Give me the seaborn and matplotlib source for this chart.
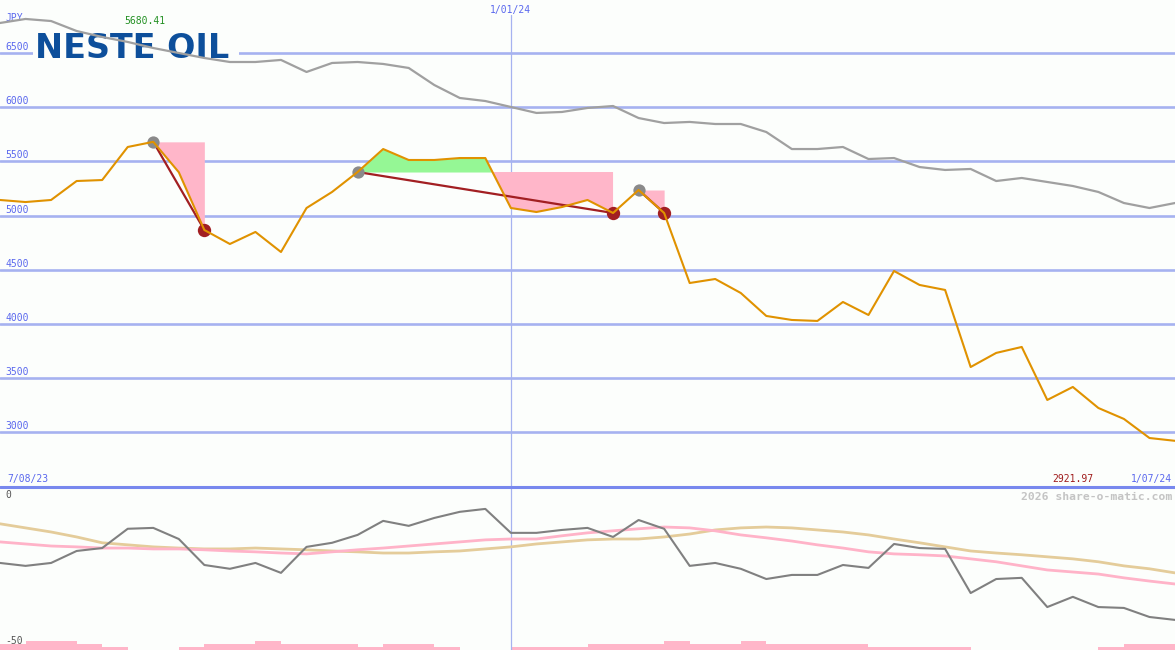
import matplotlib
matplotlib.use("Agg")
import matplotlib.pyplot as plt
from matplotlib.patches import Rectangle
import numpy as np
import pandas as pd
import seaborn as sns

# ---------------- data ----------------
dates = pd.date_range("2023-08-14", periods=47, freq="7D")
price = [5144, 5125, 5144, 5319, 5328, 5633, 5680.41, 5400, 4867, 4738, 4849, 4664,
         5070, 5218, 5402, 5614, 5513, 5513, 5531, 5531, 5070, 5033, 5079, 5144,
         5024, 5236, 5024, 4378, 4415, 4286, 4074, 4037, 4028, 4203, 4083, 4489,
         4360, 4314, 3603, 3733, 3788, 3299, 3419, 3225, 3124, 2948, 2921.97]
compare = [6777, 6814, 6795, 6703, 6648, 6602, 6546, 6500, 6454, 6417, 6417, 6436,
           6325, 6408, 6417, 6399, 6362, 6205, 6085, 6057, 6002, 5947, 5956, 5993,
           6011, 5900, 5854, 5864, 5845, 5845, 5771, 5614, 5614, 5633, 5522, 5531,
           5448, 5421, 5430, 5319, 5347, 5310, 5273, 5218, 5116, 5070, 5116]
rel = [-23.3, -24.3, -23.3, -19.2, -18.2, -11.6, -11.3, -15.1, -24.0, -25.3, -23.3, -26.7,
       -17.8, -16.4, -13.7, -8.9, -10.6, -7.9, -5.8, -4.8, -13.0, -13.0, -12.0, -11.3,
       -14.4, -8.6, -11.6, -24.3, -23.3, -25.3, -28.8, -27.4, -27.4, -24.0, -25.0, -16.8,
       -18.2, -18.5, -33.6, -28.8, -28.4, -38.4, -34.9, -38.4, -38.7, -41.8, -42.8]
ma_fast = [-16.1, -16.8, -17.5, -17.8, -18.2, -18.2, -18.5, -18.5, -18.8, -19.2, -19.5, -19.9,
           -20.2, -19.5, -18.8, -18.2, -17.5, -16.8, -16.1, -15.4, -15.1, -15.1, -14.0, -13.0,
           -12.3, -11.6, -11.0, -11.3, -12.3, -13.7, -14.7, -15.8, -17.1, -18.2, -19.5, -20.2,
           -20.5, -20.9, -21.9, -22.9, -24.3, -25.7, -26.4, -27.1, -28.4, -29.5, -30.5]
ma_slow = [-9.9, -11.3, -12.7, -14.4, -16.4, -17.1, -17.8, -18.2, -18.5, -18.5, -18.2, -18.5,
           -18.8, -19.2, -19.5, -19.9, -19.9, -19.5, -19.2, -18.5, -17.8, -16.8, -16.1, -15.4,
           -15.1, -15.1, -14.4, -13.4, -12.0, -11.3, -11.0, -11.3, -12.0, -12.7, -13.7, -15.1,
           -16.4, -17.8, -19.2, -19.9, -20.5, -21.2, -21.9, -22.9, -24.3, -25.3, -26.7]
volume = [2, 3, 3, 2, 1, 0, 0, 1, 2, 2, 3, 2, 2, 2, 1, 2, 2, 1, 0, 0, 1, 1, 1, 2,
          2, 2, 3, 2, 2, 3, 2, 2, 2, 2, 1, 1, 1, 1, 0, 0, 0, 0, 0, 1, 2, 2, 0]
trades = [(6, 8), (14, 24), (25, 26)]          # (entry index, exit index)
price_ticks = [3000, 3500, 4000, 4500, 5000, 5500, 6000, 6500]
bottom_ticks = [0, -50]
mid_date_label = "1/01/24"
start_label, end_label = "7/08/23", "1/07/24"
currency = "JPY"
max_label, min_label = "5680.41", "2921.97"
logo = "NESTE OIL"
credit = "2026 share-o-matic.com"

# ---------------- style ----------------
BG = "#fcfefc"
GRID = "#a6b2f0"
SEP = "#7888ee"
TXT = "#5a68ee"
ORANGE = "#e09200"
GREY_TOP = "#a0a0a0"
PINK = "#ffb6c9"
GREEN = "#95f795"
DRED = "#a21f22"

sns.set_theme(style="white")
plt.rcParams["font.family"] = ["DejaVu Sans Mono", "DejaVu Sans"]

W, H = 1175, 650
TOP_H = 487
fig = plt.figure(figsize=(W / 100, H / 100), dpi=100, facecolor=BG)
ax = fig.add_axes([0, (H - TOP_H) / H, 1, TOP_H / H])
axb = fig.add_axes([0, 0, 1, (H - TOP_H) / H])
for a in (ax, axb):
    a.set_facecolor(BG)
    a.set_axis_off()

idx = np.arange(len(price))
df = pd.DataFrame({"i": idx, "date": dates, "price": price, "compare": compare,
                   "rel": rel, "ma_fast": ma_fast, "ma_slow": ma_slow, "volume": volume})

# ---------------- top panel ----------------
ax.set_xlim(0, len(price) - 1)
ax.set_ylim(2496, 6989)
for v in price_ticks:
    ax.axhline(v, color=GRID, lw=1.9, zorder=1)
    ax.annotate(str(v), xy=(0, v), xycoords=ax.get_yaxis_transform(),
                xytext=(5, 3), textcoords="offset pixels", ha="left", va="baseline",
                fontsize=7, color=TXT, zorder=1.2)

mid_i = int(np.where(dates == pd.Timestamp("2024-01-01"))[0][0])
ax.axvline(mid_i, ymax=(TOP_H - 15) / TOP_H, color=GRID, lw=0.9, zorder=1.1)
axb.axvline(mid_i, color=GRID, lw=0.9, zorder=1.1)

ax.text(5 / W, 1 - 21 / H, currency, transform=fig.transFigure, fontsize=7,
        color=TXT, ha="left", va="baseline", zorder=1.2)
ax.annotate(mid_date_label, xy=(mid_i, 1), xycoords=ax.get_xaxis_transform(),
            xytext=(0, -13), textcoords="offset pixels", ha="center", va="baseline",
            fontsize=7, color=TXT)

# logo (background strip hides the grid line behind it)
ax.add_patch(Rectangle((33 / W, 1 - 60 / H), 206 / W, 26 / H, transform=fig.transFigure,
                       facecolor=BG, edgecolor="none", zorder=1.5))
ax.text(35 / W, 1 - 57.5 / H, logo, transform=fig.transFigure, fontsize=24,
        fontweight="bold", family="DejaVu Sans", color="#0d4f9b", ha="left",
        va="baseline", zorder=2)

sns.lineplot(data=df, x="i", y="compare", ax=ax, color=GREY_TOP, lw=1.6, zorder=3)

price_arr = np.asarray(price)
for a_i, b_i in trades:
    xs = idx[a_i:b_i + 1]
    ys = price_arr[a_i:b_i + 1]
    lvl = price_arr[a_i]
    ax.fill_between(xs, ys, lvl, where=ys >= lvl, interpolate=True,
                    color=GREEN, lw=0, zorder=4)
    ax.fill_between(xs, ys, lvl, where=ys <= lvl, interpolate=True,
                    color=PINK, lw=0, zorder=4)
    sns.lineplot(x=[a_i, b_i], y=[price[a_i], price[b_i]], ax=ax,
                 color=DRED, lw=1.6, zorder=5)
entries = [t[0] for t in trades]
exits = [t[1] for t in trades]
ax.scatter(entries, [price[i] for i in entries], s=78, color="#8a8a8a",
           lw=0, zorder=6)
ax.scatter(exits, [price[i] for i in exits], s=92, color=DRED, lw=0, zorder=6)

sns.lineplot(data=df, x="i", y="price", ax=ax, color=ORANGE, lw=1.5, zorder=7)

ax.text(145 / W, 1 - 24 / H, max_label, transform=fig.transFigure, fontsize=7,
        color="#239023", ha="center", va="baseline", zorder=8)
ax.text(1093 / W, 1 - 482 / H, min_label, transform=fig.transFigure, fontsize=7,
        color="#a01c1c", ha="right", va="baseline", zorder=8)
ax.text(7 / W, 1 - 482 / H, start_label, transform=fig.transFigure, fontsize=7,
        color=TXT, ha="left", va="baseline", zorder=8)
ax.text(1172 / W, 1 - 482 / H, end_label, transform=fig.transFigure, fontsize=7,
        color=TXT, ha="right", va="baseline", zorder=8)
ax.set_xlabel("")
ax.set_ylabel("")

# ---------------- bottom panel ----------------
axb.set_xlim(0, len(price) - 1)
axb.set_ylim(-53.1, 2.7)
axv = axb.twinx()
axv.set_axis_off()
axv.set_ylim(0, (H - TOP_H) / 3.0)
axv.bar(idx, volume, width=1.0, align="edge", color=PINK, lw=0, zorder=1)
axb.set_zorder(axv.get_zorder() + 1)
axb.patch.set_visible(False)
axv.patch.set_facecolor(BG)

sns.lineplot(data=df, x="i", y="ma_slow", ax=axb, color="#e4cc9a", lw=2.0, zorder=2)
sns.lineplot(data=df, x="i", y="ma_fast", ax=axb, color="#ffb3c8", lw=2.0, zorder=3)
sns.lineplot(data=df, x="i", y="rel", ax=axb, color="#808080", lw=1.5, zorder=4)
axb.set_xlabel("")
axb.set_ylabel("")

for v in bottom_ticks:
    axb.annotate(str(v), xy=(0, v), xycoords=axb.get_yaxis_transform(), xytext=(5, 0),
                 textcoords="offset pixels", ha="left", va="center",
                 fontsize=7, color="#555555", zorder=6)

axb.plot([0, 1], [1, 1], transform=axb.transAxes, color=SEP, lw=2.2,
         clip_on=False, zorder=10)
axb.text(1172 / W, 1 - 500 / H, credit, transform=fig.transFigure, fontsize=8.2,
         fontweight="bold", color="#c4c4c4", ha="right", va="baseline", zorder=6)

fig.savefig("out.png", dpi=100, facecolor=BG)
